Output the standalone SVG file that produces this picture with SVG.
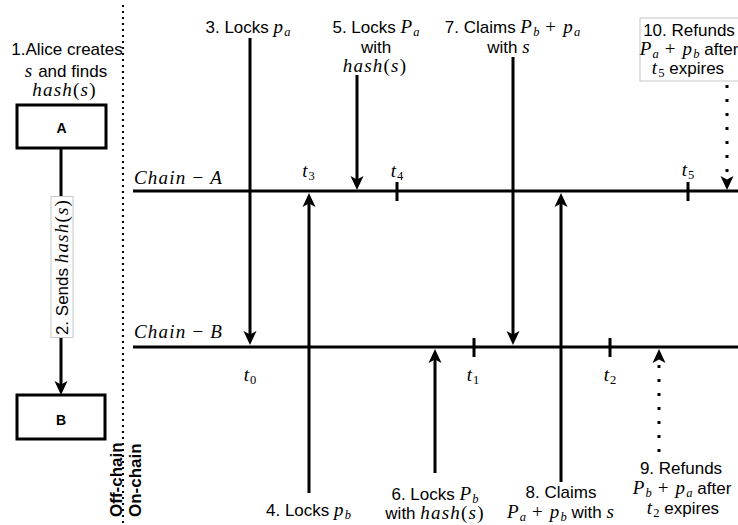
<svg xmlns="http://www.w3.org/2000/svg" width="738" height="525" viewBox="0 0 738 525">
<style>
.s{font-family:"Liberation Sans",Arial,Helvetica,sans-serif;font-size:17px;fill:#000}
.b{font-family:"Liberation Sans",Arial,Helvetica,sans-serif;font-weight:bold;fill:#000}
.m{font-family:"Liberation Serif","Times New Roman",serif;font-style:italic;font-size:19px;letter-spacing:1.2px}
.r{font-family:"Liberation Serif","Times New Roman",serif;font-style:normal;font-size:19px;letter-spacing:1.2px}
.sub{font-size:12.5px;letter-spacing:0}
.ln{stroke:#000;stroke-width:3;fill:none}
.arr{stroke:#000;stroke-width:3;fill:none;marker-end:url(#ah)}
.dot{stroke:#000;stroke-width:3;fill:none;stroke-dasharray:3 11;marker-end:url(#ah)}
.box{fill:#fff;stroke:#000;stroke-width:3}
.lbl{fill:#fff;stroke:#c8c8c8;stroke-width:1}
</style>
<defs>
<marker id="ah" markerUnits="userSpaceOnUse" markerWidth="30" markerHeight="30" refX="-10" refY="0" orient="auto" overflow="visible">
<path d="M0,0 L-14,-6.5 L-10.5,0 L-14,6.5 Z" fill="#000"/>
</marker>
</defs>

<!-- off-chain / on-chain separator -->
<g id="separator">
<line x1="123" y1="5" x2="123" y2="525" stroke="#000" stroke-width="2" stroke-dasharray="2 4"/>
<text class="b" font-size="17" transform="translate(122,517) rotate(-90)">Off-chain</text>
<text class="b" font-size="17" transform="translate(141,517) rotate(-90)">On-chain</text>
</g>

<!-- chains -->
<g id="chainA">
<line class="ln" x1="133" y1="191" x2="738" y2="191"/>
<text x="134" y="184"><tspan class="m">Chain</tspan><tspan class="r"> − </tspan><tspan class="m">A</tspan></text>
<line class="ln" x1="397" y1="182" x2="397" y2="201"/>
<line class="ln" x1="688" y1="182" x2="688" y2="201"/>
<text x="308.5" y="177" text-anchor="middle"><tspan class="m">t</tspan><tspan class="r sub" dy="3">3</tspan></text>
<text x="397" y="177" text-anchor="middle"><tspan class="m">t</tspan><tspan class="r sub" dy="3">4</tspan></text>
<text x="688" y="176" text-anchor="middle"><tspan class="m">t</tspan><tspan class="r sub" dy="3">5</tspan></text>
</g>
<g id="chainB">
<line class="ln" x1="133" y1="347" x2="738" y2="347"/>
<text x="134" y="338"><tspan class="m">Chain</tspan><tspan class="r"> − </tspan><tspan class="m">B</tspan></text>
<line class="ln" x1="474" y1="338" x2="474" y2="357"/>
<line class="ln" x1="610" y1="338" x2="610" y2="357"/>
<text x="250" y="381" text-anchor="middle"><tspan class="m">t</tspan><tspan class="r sub" dy="3">0</tspan></text>
<text x="473" y="381" text-anchor="middle"><tspan class="m">t</tspan><tspan class="r sub" dy="3">1</tspan></text>
<text x="610" y="381" text-anchor="middle"><tspan class="m">t</tspan><tspan class="r sub" dy="3">2</tspan></text>
</g>

<!-- nodes -->
<g id="nodeA">
<rect class="box" x="17" y="105" width="89" height="43"/>
<text class="b" font-size="14" x="61.5" y="133" text-anchor="middle">A</text>
</g>
<g id="nodeB">
<rect class="box" x="17" y="395" width="88" height="44"/>
<text class="b" font-size="14" x="61" y="425" text-anchor="middle">B</text>
</g>

<!-- connectors -->
<g id="connectors">
<line class="arr" x1="61" y1="148" x2="61" y2="385"/>
<line class="arr" x1="250" y1="38" x2="250" y2="335"/>
<line class="arr" x1="309" y1="493" x2="309" y2="203"/>
<line class="arr" x1="357" y1="75" x2="357" y2="180"/>
<line class="arr" x1="435" y1="473" x2="435" y2="359"/>
<line class="arr" x1="513" y1="57" x2="513" y2="335"/>
<line class="arr" x1="561" y1="482" x2="561" y2="203"/>
<line class="dot" x1="659" y1="452" x2="659" y2="359"/>
<line class="dot" x1="727" y1="85" x2="727" y2="180"/>
</g>

<!-- labels -->
<g id="label1">
<text class="s" x="67" y="55" text-anchor="middle">1.Alice creates</text>
<text class="s" x="66" y="77" text-anchor="middle"><tspan class="m">s</tspan> and finds</text>
<text x="64.5" y="96" text-anchor="middle"><tspan class="m">hash</tspan><tspan class="r">(</tspan><tspan class="m">s</tspan><tspan class="r">)</tspan></text>
</g>
<g id="label2" transform="translate(68,267) rotate(-90)">
<rect class="lbl" x="-70.5" y="-17" width="141" height="22"/>
<text class="s" x="0" y="0" text-anchor="middle">2. Sends <tspan class="m">hash</tspan><tspan class="r">(</tspan><tspan class="m">s</tspan><tspan class="r">)</tspan></text>
</g>
<g id="label3">
<text class="s" x="248" y="33" text-anchor="middle">3. Locks <tspan class="m">p</tspan><tspan class="m sub" dy="3">a</tspan></text>
</g>
<g id="label4">
<text class="s" x="308.5" y="516" text-anchor="middle">4. Locks <tspan class="m">p</tspan><tspan class="m sub" dy="3">b</tspan></text>
</g>
<g id="label5">
<text class="s" x="376" y="33" text-anchor="middle">5. Locks <tspan class="m">P</tspan><tspan class="m sub" dy="3">a</tspan></text>
<text class="s" x="376" y="53" text-anchor="middle">with</text>
<text x="375" y="72" text-anchor="middle"><tspan class="m">hash</tspan><tspan class="r">(</tspan><tspan class="m">s</tspan><tspan class="r">)</tspan></text>
</g>
<g id="label6">
<text class="s" x="435" y="500" text-anchor="middle">6. Locks <tspan class="m">P</tspan><tspan class="m sub" dy="3">b</tspan></text>
<text class="s" x="435" y="519" text-anchor="middle">with <tspan class="m">hash</tspan><tspan class="r">(</tspan><tspan class="m">s</tspan><tspan class="r">)</tspan></text>
</g>
<g id="label7">
<text class="s" x="512.5" y="33" text-anchor="middle">7. Claims <tspan class="m">P</tspan><tspan class="m sub" dy="3">b</tspan><tspan class="r" dy="-3"> + </tspan><tspan class="m">p</tspan><tspan class="m sub" dy="3">a</tspan></text>
<text class="s" x="509" y="53" text-anchor="middle">with <tspan class="m">s</tspan></text>
</g>
<g id="label8">
<text class="s" x="561" y="498" text-anchor="middle">8. Claims</text>
<text class="s" x="561" y="518" text-anchor="middle"><tspan class="m">P</tspan><tspan class="m sub" dy="3">a</tspan><tspan class="r" dy="-3"> + </tspan><tspan class="m">p</tspan><tspan class="m sub" dy="3">b</tspan><tspan dy="-3"> with </tspan><tspan class="m">s</tspan></text>
</g>
<g id="label9">
<text class="s" x="681" y="474" text-anchor="middle">9. Refunds</text>
<text class="s" x="682" y="494" text-anchor="middle"><tspan class="m">P</tspan><tspan class="m sub" dy="3">b</tspan><tspan class="r" dy="-3"> + </tspan><tspan class="m">p</tspan><tspan class="m sub" dy="3">a</tspan><tspan dy="-3"> after</tspan></text>
<text class="s" x="683" y="514" text-anchor="middle"><tspan class="m">t</tspan><tspan class="r sub" dy="3">2</tspan><tspan dy="-3"> expires</tspan></text>
</g>
<g id="label10">
<rect class="lbl" x="640" y="18" width="100" height="63"/>
<text class="s" x="689" y="36" text-anchor="middle">10. Refunds</text>
<text class="s" x="689" y="55" text-anchor="middle"><tspan class="m">P</tspan><tspan class="m sub" dy="3">a</tspan><tspan class="r" dy="-3"> + </tspan><tspan class="m">p</tspan><tspan class="m sub" dy="3">b</tspan><tspan dy="-3"> after</tspan></text>
<text class="s" x="688" y="74" text-anchor="middle"><tspan class="m">t</tspan><tspan class="r sub" dy="3">5</tspan><tspan dy="-3"> expires</tspan></text>
</g>
</svg>
